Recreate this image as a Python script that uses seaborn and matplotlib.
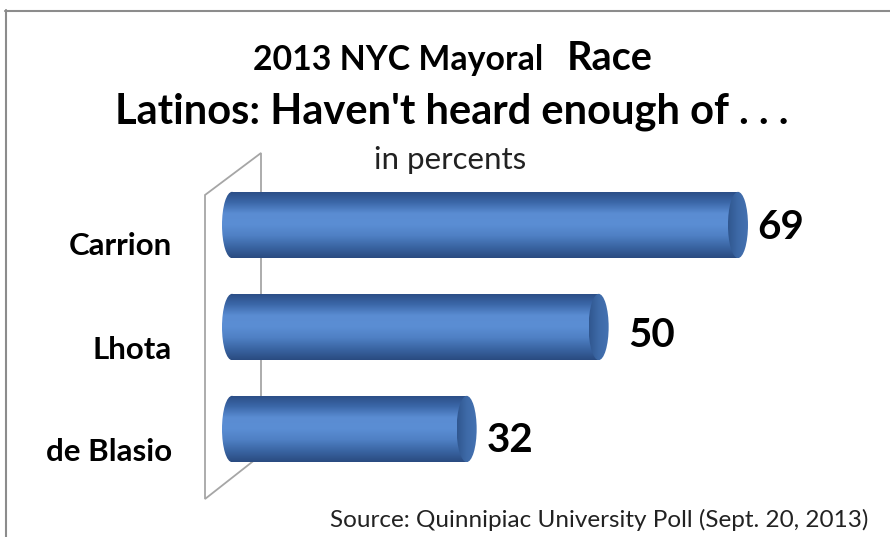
import numpy as np
import matplotlib
matplotlib.use("Agg")
import matplotlib.pyplot as plt
from matplotlib.patches import Ellipse, Rectangle, Polygon
from matplotlib.lines import Line2D
from matplotlib.colors import LinearSegmentedColormap
import seaborn as sns

# Poll data
candidates = ["Carrion", "Lhota", "de Blasio"]
percents = [69, 50, 32]

title_line1 = "2013 NYC Mayoral"
title_word = "Race"
title_line2 = "Latinos: Haven't heard enough of . . ."
subtitle = "in percents"
source = "Source: Quinnipiac University Poll (Sept. 20, 2013)"

sns.set_style("white")
plt.rcParams["font.family"] = ["Lato", "DejaVu Sans"]

W, H = 890, 537
fig = plt.figure(figsize=(W / 100, H / 100), dpi=100)
fig.patch.set_facecolor("white")

PX_PER_UNIT = 7.333
X0_PX = 232          # pixel position of value 0
XMIN, XMAX = -4, 82
ax_left = X0_PX + XMIN * PX_PER_UNIT
ax_width = (XMAX - XMIN) * PX_PER_UNIT
ax = fig.add_axes([ax_left / W, 57 / H, ax_width / W, 306 / H])
ax.patch.set_visible(False)

BAR_W = 0.65
sns.barplot(x=percents, y=candidates, orient="h", width=BAR_W, ax=ax,
            color="#4F81BD", saturation=1)
ax.set_xlim(XMIN, XMAX)
ax.set_ylim(2.5, -0.5)
ax.axis("off")

def px(x, y):
    """Pixel (top-left origin) to figure fraction."""
    return x / W, 1 - y / H

# Side wall of the 3-D plot area
wall = [(205, 195), (261, 153), (261, 455), (205, 499)]
wall_fig = [px(x, y) for x, y in wall]
ax.add_patch(Polygon(wall_fig, closed=True, transform=fig.transFigure,
                     facecolor="white", edgecolor="#A6A6A6", lw=1.3,
                     clip_on=False, zorder=0.5))

# Cylinder shading: vertical gradient across the bar body
body_cmap = LinearSegmentedColormap.from_list(
    "body", ["#2A4C84", "#3B67A8", "#5A8CD2", "#5B8ED4", "#4F80C4", "#3A65A3", "#2A4B80"])
cap_cmap = LinearSegmentedColormap.from_list("cap", ["#30578F", "#3E6AA8", "#4572B2"])
grad_v = np.linspace(0, 1, 256).reshape(-1, 1)
grad_h = np.linspace(0, 1, 256).reshape(1, -1)
cap_rx = 10 / PX_PER_UNIT

# perspective nudges for the value labels (points)
label_nudge = [(7, -2), (14, -6), (7, -8)]

bars = [p for p in ax.patches if isinstance(p, Rectangle) and p.get_width() > 0]
for patch, (dx, dy) in zip(bars, label_nudge):
    x, y = patch.get_x(), patch.get_y()
    w, h = patch.get_width(), patch.get_height()
    patch.set_facecolor("none")
    patch.set_edgecolor("none")
    yc = y + h / 2
    ext = [x - cap_rx, x + w, y + h, y]
    # left rounded end (back of the cylinder)
    left = Ellipse((x, yc), 2 * cap_rx, h, facecolor="none", edgecolor="none")
    ax.add_patch(left)
    im1 = ax.imshow(grad_v, cmap=body_cmap, extent=ext, aspect="auto", zorder=2)
    im1.set_clip_path(left)
    body = Rectangle((x, y), w, h, facecolor="none", edgecolor="none")
    ax.add_patch(body)
    im2 = ax.imshow(grad_v, cmap=body_cmap, extent=ext, aspect="auto", zorder=2)
    im2.set_clip_path(body)
    # right end cap
    cap = Ellipse((x + w, yc), 2 * cap_rx, h, facecolor="none", edgecolor="none")
    ax.add_patch(cap)
    im3 = ax.imshow(grad_h, cmap=cap_cmap,
                    extent=[x + w - cap_rx, x + w + cap_rx, y + h, y],
                    aspect="auto", zorder=3)
    im3.set_clip_path(cap)
    # value label
    ax.annotate(f"{w:g}", (x + w + cap_rx, yc), xytext=(dx, dy),
                textcoords="offset points", ha="left", va="center",
                fontsize=29, fontweight="bold", color="black", zorder=4)

ax.set_xlim(XMIN, XMAX)
ax.set_ylim(2.5, -0.5)

# Category labels sit lower than the bar centres (3-D perspective)
label_y_px = [246, 350, 452]
for name, ly in zip(candidates, label_y_px):
    fig.text(*px(172, ly), name, ha="right", va="center",
             fontsize=22.5, fontweight="bold", color="black")

# Titles
fig.text(*px(253, 60), title_line1, ha="left", va="center",
         fontsize=24.4, fontweight="bold", color="black")
fig.text(*px(567, 58), title_word, ha="left", va="center",
         fontsize=28.5, fontweight="bold", color="black")
fig.text(*px(452, 112), title_line2, ha="center", va="center",
         fontsize=30, fontweight="bold", color="black")
fig.text(*px(450, 160), subtitle, ha="center", va="center",
         fontsize=22.5, color="#222222")
fig.text(*px(868, 520), source, ha="right", va="center",
         fontsize=17.5, color="#222222")

# Outer frame (top and left edges)
fig.add_artist(Line2D([px(5, 0)[0], 1], [px(0, 10.5)[1]] * 2,
                      transform=fig.transFigure, color="#8C8C8C", lw=1.5))
fig.add_artist(Line2D([px(5.5, 0)[0]] * 2, [px(0, 10)[1], 0],
                      transform=fig.transFigure, color="#8C8C8C", lw=1.5))

fig.savefig("out.png", dpi=100, facecolor="white")
